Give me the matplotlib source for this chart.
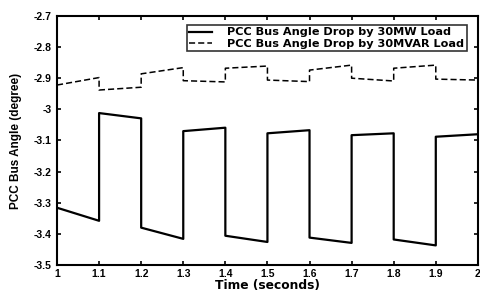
import matplotlib.pyplot as plt

plt.rcParams['font.family'] = ['Liberation Sans', 'DejaVu Sans']
plt.rcParams['font.weight'] = 'bold'

# time points, each switch instant listed twice (before / after the step)
t = [1.0, 1.1, 1.1, 1.2, 1.2, 1.3, 1.3, 1.4, 1.4, 1.5, 1.5,
     1.6, 1.6, 1.7, 1.7, 1.8, 1.8, 1.9, 1.9, 2.0]

# PCC bus angle, 30MW load (solid)
mw = [-3.316, -3.358, -3.012, -3.029, -3.380, -3.416, -3.070, -3.059,
      -3.406, -3.426, -3.077, -3.067, -3.412, -3.429, -3.083, -3.077,
      -3.418, -3.437, -3.088, -3.080]

# PCC bus angle, 30MVAR load (dashed)
mvar = [-2.922, -2.898, -2.938, -2.929, -2.886, -2.866, -2.908, -2.912,
        -2.868, -2.861, -2.906, -2.911, -2.874, -2.858, -2.900, -2.909,
        -2.868, -2.858, -2.903, -2.906]

xticks = [1, 1.1, 1.2, 1.3, 1.4, 1.5, 1.6, 1.7, 1.8, 1.9, 2]
xlabels = ['1', '1.1', '1.2', '1.3', '1.4', '1.5', '1.6', '1.7', '1.8', '1.9', '2']
yticks = [-2.7, -2.8, -2.9, -3.0, -3.1, -3.2, -3.3, -3.4, -3.5]
ylabels = ['-2.7', '-2.8', '-2.9', '-3', '-3.1', '-3.2', '-3.3', '-3.4', '-3.5']

fig = plt.figure(figsize=(4.81, 2.91), dpi=100)
ax = fig.add_axes([0.1185, 0.0893, 0.875, 0.856])

ax.plot(t, mw, color='black', linewidth=1.6, linestyle='-',
        label='PCC Bus Angle Drop by 30MW Load')
ax.plot(t, mvar, color='black', linewidth=1.1, linestyle=(0, (4, 2)),
        label='PCC Bus Angle Drop by 30MVAR Load')

ax.set_xlim(1, 2)
ax.set_ylim(-3.5, -2.7)
ax.set_xticks(xticks)
ax.set_xticklabels(xlabels)
ax.set_yticks(yticks)
ax.set_yticklabels(ylabels)
ax.tick_params(direction='in', top=True, right=True, length=3, width=1.2,
               labelsize=7.5, pad=4)
ax.tick_params(axis='x', pad=3)
for s in ax.spines.values():
    s.set_linewidth(1.5)

ax.set_xlabel('Time (seconds)', fontsize=8.8, fontweight='bold',
              family='DejaVu Sans', labelpad=0)
ax.set_ylabel('PCC Bus Angle (degree)', fontsize=8.5, fontweight='bold',
              labelpad=8)

leg = ax.legend(loc='upper right', bbox_to_anchor=(0.973, 0.965),
                prop={'family': 'DejaVu Sans', 'weight': 'bold', 'size': 8.1},
                frameon=True, fancybox=False, edgecolor='black',
                handlelength=2.0, borderpad=0.25, labelspacing=0.1,
                handletextpad=1.3, borderaxespad=0)
leg.get_frame().set_linewidth(1.2)

fig.savefig('out.png', dpi=100)
